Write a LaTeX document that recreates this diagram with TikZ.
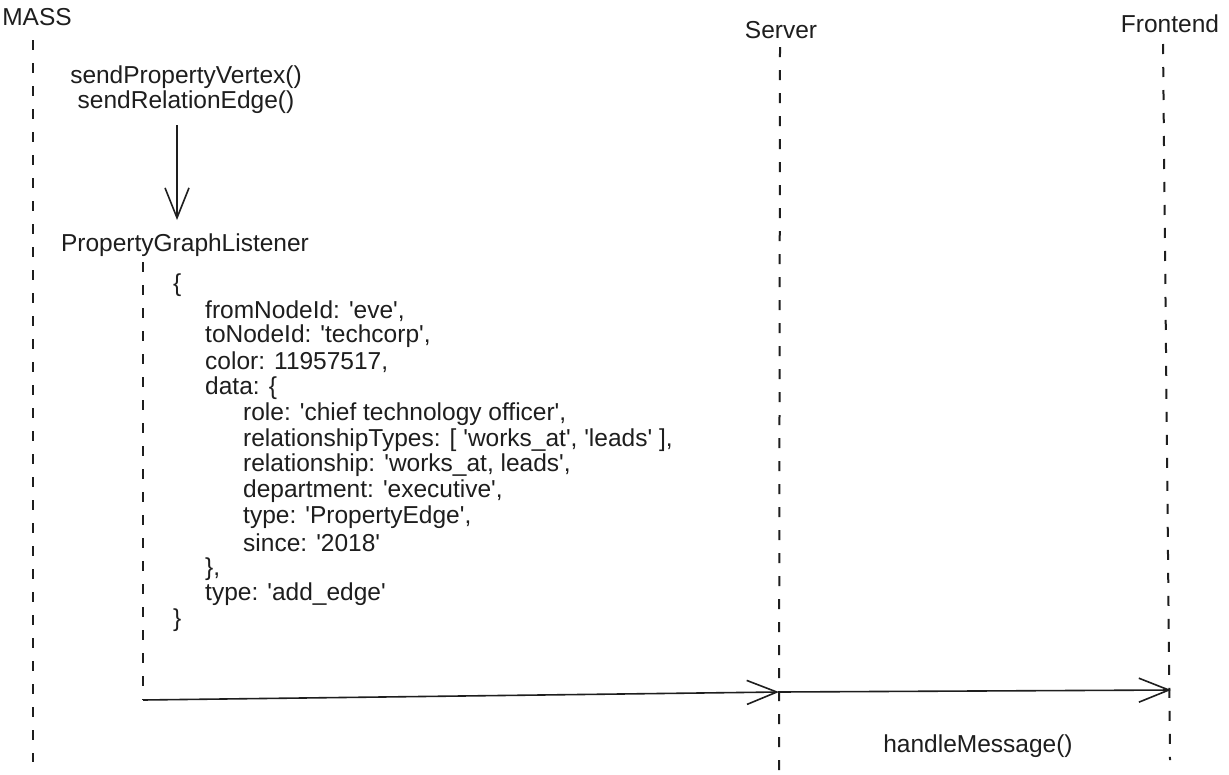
\documentclass[tikz,border=0pt]{standalone}
\usepackage{fontspec}
\setmainfont{Liberation Sans}
\usetikzlibrary{arrows.meta}
\definecolor{ink}{HTML}{1E1E1E}
\newcommand\apo{\textquotesingle}
\tikzset{
  lbl/.style={font=\fontsize{24.5}{28}\selectfont, text=ink, inner sep=0pt},
  code/.style={lbl, anchor=west},
  life/.style={draw=ink, line width=2pt, dash pattern=on 10pt off 13pt},
  msg/.style={draw=ink, line width=1.6pt, -{Straight Barb[length=30pt,width=24pt,line width=1.6pt]}}
}
\begin{document}
\begin{tikzpicture}[x=1pt,y=-1pt]
\useasboundingbox[fill=white] (0,0) rectangle (1229,774);
% participants
\node[lbl] (mass) at (37,17) {MASS};
\node[lbl] (server) at (781,30) {Server};
\node[lbl] (front) at (1170,24) {Frontend};
\coordinate (massTop) at (33,40);
\coordinate (massBot) at (33,762);
\coordinate (srvTop) at (780,47);
\coordinate (srvBot) at (779,774);
\coordinate (feTop) at (1163,44);
\coordinate (feBot) at (1170,760);
\draw[life] (massTop) -- (massBot);
\draw[life] (srvTop) -- (srvBot);
\draw[life] (feTop) -- (feBot);
% calls
\node[lbl] (spv) at (186,77) {sendPropertyVertex()};
\node[lbl] (sre) at (186,102) {sendRelationEdge()};
\coordinate (downS) at (177,125);
\coordinate (downE) at (177,220);
\draw[msg] (downS) -- (downE);
\node[lbl] (pgl) at (185,245) {PropertyGraphListener};
\coordinate (pglTop) at (143,262);
\coordinate (corner) at (143,700);
\coordinate (srvHit) at (779,692);
\coordinate (feHit) at (1171,690);
\draw[life] (pglTop) -- (corner);
\draw[msg] (corner) -- (srvHit);
\draw[msg] (srvHit) -- (feHit);
\node[lbl] (hm) at (978,746) {handleMessage()};
% payload
\node[code] (c0) at (173,285.0) {\{};
\node[code] (c1) at (205,310.8) {fromNodeId: \apo eve\apo,};
\node[code] (c2) at (205,336.6) {toNodeId: \apo techcorp\apo,};
\node[code] (c3) at (205,362.4) {color: 11957517,};
\node[code] (c4) at (205,388.2) {data: \{};
\node[code] (c5) at (243,414.0) {role: \apo chief technology officer\apo,};
\node[code] (c6) at (243,439.8) {relationshipTypes: [ \apo works\_at\apo, \apo leads\apo\ ],};
\node[code] (c7) at (243,465.6) {relationship: \apo works\_at, leads\apo,};
\node[code] (c8) at (243,491.4) {department: \apo executive\apo,};
\node[code] (c9) at (243,517.2) {type: \apo PropertyEdge\apo,};
\node[code] (c10) at (243,543.0) {since: \apo 2018\apo};
\node[code] (c11) at (205,568.8) {\},};
\node[code] (c12) at (205,594.6) {type: \apo add\_edge\apo};
\node[code] (c13) at (173,620.4) {\}};
\end{tikzpicture}
\end{document}
